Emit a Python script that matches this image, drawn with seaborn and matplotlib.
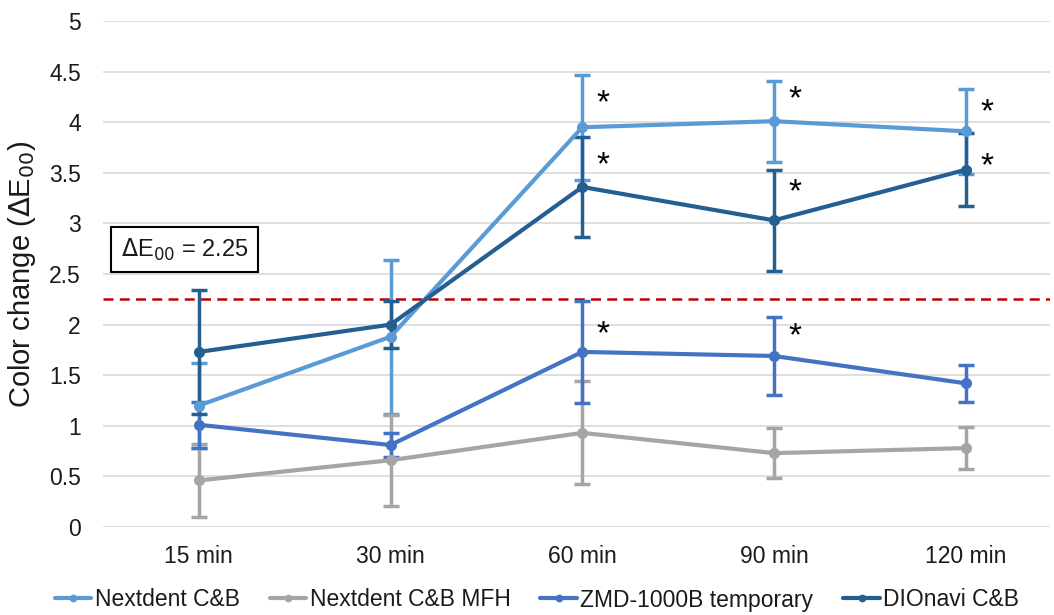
import numpy as np
import pandas as pd
import matplotlib
matplotlib.use("Agg")
import matplotlib.pyplot as plt
import seaborn as sns

times = ["15 min", "30 min", "60 min", "90 min", "120 min"]
series = ["Nextdent C&B", "Nextdent C&B MFH", "ZMD-1000B temporary", "DIOnavi C&B"]
nextdent = [1.20, 1.88, 3.95, 4.01, 3.91]
nextdent_sd = [0.42, 0.76, 0.52, 0.40, 0.42]
mfh = [0.46, 0.66, 0.93, 0.73, 0.78]
mfh_sd = [0.36, 0.45, 0.51, 0.25, 0.21]
zmd = [1.01, 0.81, 1.73, 1.69, 1.42]
zmd_sd = [0.23, 0.12, 0.50, 0.39, 0.18]
dionavi = [1.73, 2.00, 3.36, 3.03, 3.53]
dionavi_sd = [0.61, 0.23, 0.49, 0.50, 0.36]
threshold = 2.25
# significance stars: (time index, y position)
stars_t = [2, 2, 2, 3, 3, 3, 4, 4]
stars_y = [4.18, 3.57, 1.90, 4.22, 3.30, 1.88, 4.09, 3.56]

colors = ["#5B9BD5", "#A5A5A5", "#4472C4", "#255E91"]
means = [nextdent, mfh, zmd, dionavi]
sds = [nextdent_sd, mfh_sd, zmd_sd, dionavi_sd]

rows = []
for s, m, e in zip(series, means, sds):
    for i, t in enumerate(times):
        rows.append({"series": s, "time": t, "pos": i, "mean": m[i], "sd": e[i]})
df = pd.DataFrame(rows)

sns.set_theme(style="white")
plt.rcParams["font.family"] = ["Liberation Sans", "DejaVu Sans"]
txt = "#1a1a1a"

fig = plt.figure(figsize=(10.54, 6.15), dpi=100)
ax = fig.add_axes([103/1054, 1 - 527/615, (1050-103)/1054, (527-21)/615])

# error bars first
for s, c in zip(series, colors):
    d = df[df.series == s]
    ax.errorbar(d["pos"], d["mean"], yerr=d["sd"], fmt="none", ecolor=c,
                elinewidth=2.5, capsize=5.5, capthick=2.5, zorder=2)

sns.lineplot(data=df, x="pos", y="mean", hue="series", hue_order=series,
             palette=colors, marker="o", markersize=8, markeredgewidth=0,
             linewidth=3, ax=ax, zorder=3, legend=True)

ax.axhline(threshold, color="#C00000", linestyle=(0, (4, 2.5)), linewidth=1.8, zorder=1)

for t, y in zip(stars_t, stars_y):
    ax.text(t + 0.075, y, "*", fontsize=24, ha="left", va="center", color="black")

ax.text(-0.075, 2.74, r"$\Delta$E$_{00}$ = 2.25", fontsize=17, ha="center", va="center",
        color=txt,
        bbox=dict(boxstyle="square,pad=0.4", fc="white", ec="black", lw=1.5), zorder=5)

ax.set_xlim(-0.5, 4.44)
ax.set_ylim(0, 5)
ax.set_yticks(np.arange(0, 5.01, 0.5))
ax.set_yticklabels(["0", "0.5", "1", "1.5", "2", "2.5", "3", "3.5", "4", "4.5", "5"])
ax.set_xticks(range(len(times)))
ax.set_xticklabels(times)
ax.tick_params(axis="both", labelsize=16.5, length=0, colors=txt)
ax.tick_params(axis="x", pad=13)
ax.tick_params(axis="y", pad=16)
ax.grid(axis="y", color="#D9D9D9", linewidth=1.2)
ax.set_axisbelow(True)
for sp in ax.spines.values():
    sp.set_visible(False)
ax.set_xlabel("")
ax.set_ylabel(r"Color change ($\Delta$E$_{00}$)", fontsize=21, color=txt,
              va="center", ha="center")
ax.yaxis.set_label_coords(-81/947, 0.5)

handles, labels = ax.get_legend_handles_labels()
ax.get_legend().remove()
leg = fig.legend(handles, labels, loc="center", bbox_to_anchor=(537/1054, 1 - 600/615), ncol=4,
                 frameon=False, fontsize=16.5, handlelength=1.6, handletextpad=0.15,
                 columnspacing=1.3, markerscale=0.7, borderpad=0.1)
for t in leg.get_texts():
    t.set_color(txt)

fig.savefig("out.png", dpi=100)
